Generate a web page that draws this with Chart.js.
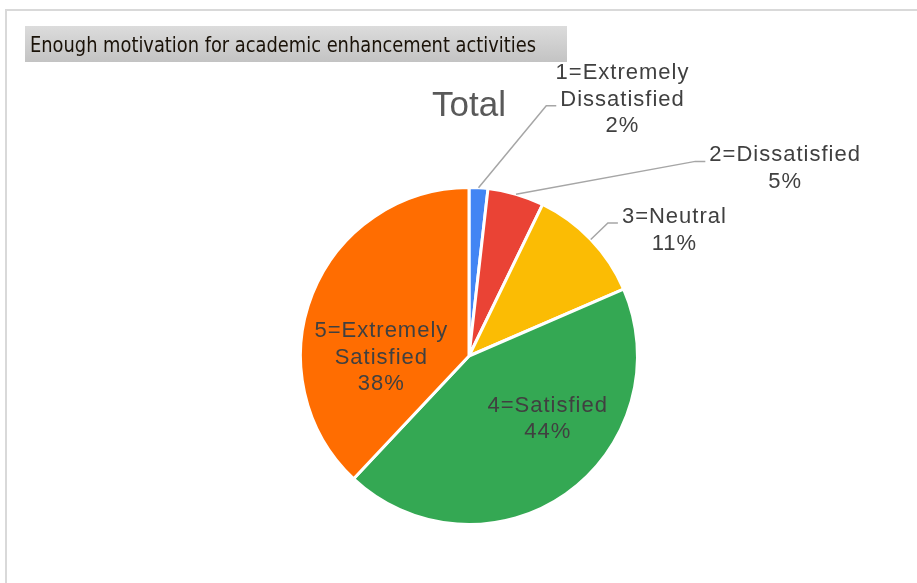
<!DOCTYPE html>
<html>
<head>
<meta charset="utf-8">
<script src="https://cdn.jsdelivr.net/npm/chart.js@4.4.1/dist/chart.umd.min.js"></script>
<style>
  html, body { margin: 0; padding: 0; background: #fff; }
  canvas { display: block; }
</style>
</head>
<body>
<canvas id="chart" width="917" height="583"></canvas>
<script>
// survey answers, share of respondents (%)
const headerText = 'Enough motivation for academic enhancement activities';
const chartTitle = 'Total';
const categories = ['1=Extremely Dissatisfied', '2=Dissatisfied', '3=Neutral', '4=Satisfied', '5=Extremely Satisfied'];
const labelLines = [['1=Extremely', 'Dissatisfied'], ['2=Dissatisfied'], ['3=Neutral'], ['4=Satisfied'], ['5=Extremely', 'Satisfied']];
const shares = [1.8, 5.4, 11.3, 43.5, 38.0];
const sliceColors = ['#4285F4', '#EA4335', '#FBBC04', '#34A853', '#FF6D01'];

// where each label sits, relative to the pie centre in units of the radius
const labelSpots = [
  { dx: 0.911, dy: -1.521, leader: true },
  { dx: 1.876, dy: -1.112, leader: true },
  { dx: 1.219, dy: -0.746, leader: true },
  { dx: 0.467, dy: 0.373 },
  { dx: -0.52, dy: 0.01 }
];

const frame = {
  id: 'frame',
  beforeDraw(chart) {
    const c = chart.ctx;
    c.save();
    c.fillStyle = '#fff';
    c.fillRect(0, 0, chart.width, chart.height);
    c.strokeStyle = '#d9d9d9';
    c.lineWidth = 2;
    c.beginPath();
    c.moveTo(6, chart.height);
    c.lineTo(6, 10);
    c.lineTo(chart.width, 10);
    c.stroke();

    // grey header tab
    const g = c.createLinearGradient(0, 26, 0, 62);
    g.addColorStop(0, '#dcdcdc');
    g.addColorStop(1, '#c3c3c3');
    c.fillStyle = g;
    c.fillRect(25, 26, 542, 36);
    c.font = '21px "DejaVu Sans Condensed"';
    c.fillStyle = '#1a1208';
    c.textBaseline = 'alphabetic';
    const w = c.measureText(headerText).width;
    c.translate(30, 52);
    c.scale(506 / w, 1);
    c.fillText(headerText, 0, 0);
    c.restore();
  }
};

const sliceLabels = {
  id: 'sliceLabels',
  afterDatasetsDraw(chart) {
    const c = chart.ctx;
    const arcs = chart.getDatasetMeta(0).data;
    const total = shares.reduce((a, b) => a + b, 0);
    const lh = 26.5;
    c.save();
    c.font = '22px "Liberation Sans"';
    c.letterSpacing = '1px';
    c.textAlign = 'center';
    c.textBaseline = 'middle';
    arcs.forEach((arc, i) => {
      const spot = labelSpots[i];
      const R = arc.outerRadius;
      const lines = labelLines[i].concat([Math.round(shares[i] / total * 100) + '%']);
      const bx = arc.x + spot.dx * R;
      const by = arc.y + spot.dy * R;
      const top = by - (lines.length - 1) * lh / 2;
      if (spot.leader) {
        const mid = (arc.startAngle + arc.endAngle) / 2;
        const sx = arc.x + R * Math.cos(mid);
        const sy = arc.y + R * Math.sin(mid);
        const a = Math.floor((lines.length - 1) / 2);
        const ay = top + a * lh + 6;
        const ex = bx - c.measureText(lines[a]).width / 2 - 4;
        c.strokeStyle = '#a6a6a6';
        c.lineWidth = 1.5;
        c.beginPath();
        c.moveTo(sx, sy);
        c.lineTo(ex - 10, ay);
        c.lineTo(ex, ay);
        c.stroke();
      }
      c.fillStyle = '#404040';
      lines.forEach((t, k) => c.fillText(t, bx, top + k * lh));
    });
    c.restore();
  }
};

new Chart(document.getElementById('chart'), {
  type: 'pie',
  data: {
    labels: categories,
    datasets: [{
      data: shares,
      backgroundColor: sliceColors,
      borderColor: '#ffffff',
      borderWidth: 3,
      hoverOffset: 0
    }]
  },
  options: {
    responsive: false,
    animation: false,
    layout: {
      padding: { top: 85, bottom: 57, left: 299, right: 278 }
    },
    plugins: {
      legend: { display: false },
      tooltip: { enabled: false },
      title: {
        display: true,
        text: chartTitle,
        color: '#595959',
        font: { family: 'Liberation Sans', size: 35, weight: 'normal', lineHeight: 1.2 },
        padding: { top: 0, bottom: 59 }
      }
    }
  },
  plugins: [frame, sliceLabels]
});
</script>
</body>
</html>
